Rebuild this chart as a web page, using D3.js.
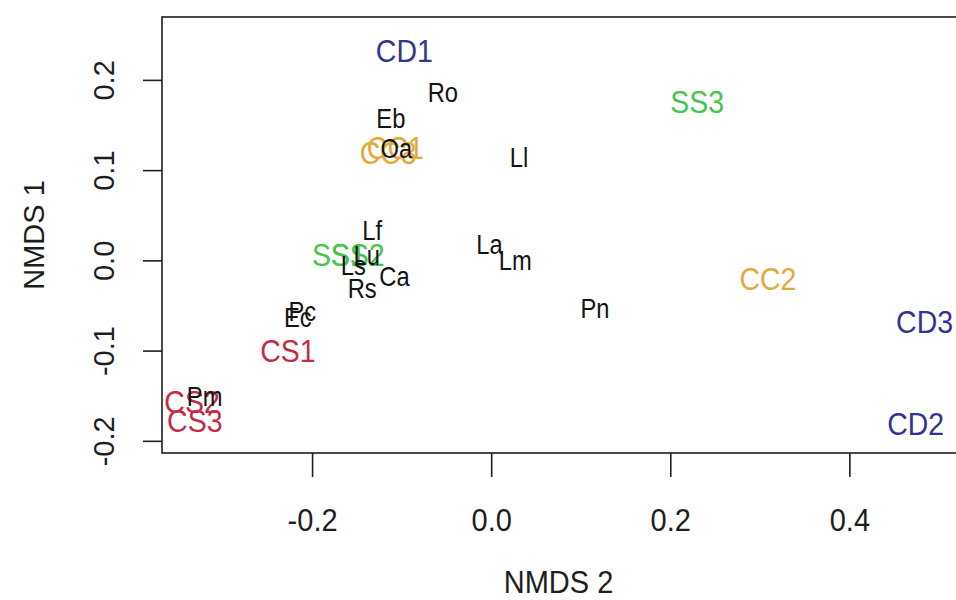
<!DOCTYPE html>
<html>
<head>
<meta charset="utf-8">
<script src="https://cdn.jsdelivr.net/npm/d3@7"></script>
<style>
  html, body { margin: 0; padding: 0; background: #fff; }
  svg { display: block; }
  text { font-family: "Liberation Sans", Arial, sans-serif; }
</style>
</head>
<body>
<svg id="chart" width="956" height="600"></svg>
<script>
// NMDS ordination: site scores and species scores
const siteLabels = ["CD1", "CD2", "CD3", "CC1", "CC2", "CC3", "SS1", "SS2", "SS3", "CS1", "CS2", "CS3"];
const siteNMDS2  = [-0.097, 0.474, 0.484, -0.107, 0.309, -0.115, -0.170, -0.149, 0.230, -0.227, -0.334, -0.331];
const siteNMDS1  = [0.233, -0.181, -0.068, 0.125, -0.020, 0.120, 0.007, 0.007, 0.176, -0.100, -0.156, -0.177];

const speciesLabels = ["Ro", "Eb", "Oa", "Ll", "Lf", "La", "Lm", "Lu", "Ls", "Ca", "Rs", "Pn", "Pc", "Ec", "Pm"];
const speciesNMDS2  = [-0.054, -0.112, -0.106, 0.031, -0.133, -0.002, 0.027, -0.139, -0.154, -0.108, -0.144, 0.116, -0.211, -0.216, -0.320];
const speciesNMDS1  = [0.186, 0.157, 0.124, 0.114, 0.033, 0.018, 0.000, 0.006, -0.006, -0.018, -0.031, -0.053, -0.057, -0.063, -0.151];

const xTicks = [-0.2, 0.0, 0.2, 0.4];
const yTicks = [-0.2, -0.1, 0.0, 0.1, 0.2];
const xTitle = "NMDS 2";
const yTitle = "NMDS 1";

const groupColor = { CD: "#34348f", CC: "#e2aa3c", SS: "#46c44c", CS: "#c42c44" };
const ink = "#1e1e1e";
const fmt = d => d3.format(".1f")(d).replace("\u2212", "-");

const svg = d3.select("#chart");
const plot = { left: 162, right: 957, top: 17, bottom: 453 };

const x = d3.scaleLinear().domain([-0.3676, 0.5202]).range([plot.left, plot.right]);
const y = d3.scaleLinear().domain([-0.2135, 0.2697]).range([plot.bottom, plot.top]);

// plot frame (right edge runs past the canvas)
svg.append("rect")
  .attr("x", plot.left).attr("y", plot.top)
  .attr("width", plot.right - plot.left).attr("height", plot.bottom - plot.top)
  .attr("fill", "none").attr("stroke", ink).attr("stroke-width", 1.6);

// bottom axis
const xAxis = d3.axisBottom(x).tickValues(xTicks).tickSize(24).tickFormat(fmt);
const gx = svg.append("g").attr("transform", `translate(0,${plot.bottom})`).call(xAxis);
gx.select(".domain").remove();
gx.selectAll(".tick line").attr("stroke", ink).attr("stroke-width", 1.6);
gx.selectAll(".tick text")
  .attr("y", null).attr("dy", "0.358em")
  .attr("transform", "translate(0,67) scale(1,1.08)")
  .attr("font-size", 29).attr("fill", ink)
  .attr("font-family", "Liberation Sans, Arial, sans-serif");

// left axis, labels turned vertical
const yAxis = d3.axisLeft(y).tickValues(yTicks).tickSize(19).tickFormat(fmt);
const gy = svg.append("g").attr("transform", `translate(${plot.left},0)`).call(yAxis);
gy.select(".domain").remove();
gy.selectAll(".tick line").attr("stroke", ink).attr("stroke-width", 1.6);
gy.selectAll(".tick text")
  .attr("x", null).attr("dy", "0.358em")
  .attr("text-anchor", "middle")
  .attr("transform", "translate(-58,0) rotate(-90)")
  .attr("font-size", 29).attr("fill", ink)
  .attr("font-family", "Liberation Sans, Arial, sans-serif");

// axis titles
svg.append("text")
  .attr("transform", `translate(${(plot.left + 955) / 2},582) scale(1,1.08)`)
  .attr("dy", "0.358em")
  .attr("text-anchor", "middle").attr("font-size", 29).attr("fill", ink)
  .text(xTitle);
svg.append("text")
  .attr("transform", `translate(34,${(plot.top + plot.bottom) / 2}) rotate(-90)`)
  .attr("dy", "0.358em")
  .attr("text-anchor", "middle").attr("font-size", 29).attr("fill", ink)
  .text(yTitle);

// site scores
const sites = siteLabels.map((l, i) => ({ label: l, x: siteNMDS2[i], y: siteNMDS1[i] }));
svg.append("g").selectAll("text").data(sites).join("text")
  .attr("transform", d => `translate(${x(d.x)},${y(d.y)}) scale(0.95,1.07)`)
  .attr("dy", "0.358em")
  .attr("text-anchor", "middle")
  .attr("font-size", 30)
  .attr("fill", d => groupColor[d.label.slice(0, 2)])
  .text(d => d.label);

// species scores
const species = speciesLabels.map((l, i) => ({ label: l, x: speciesNMDS2[i], y: speciesNMDS1[i] }));
svg.append("g").selectAll("text").data(species).join("text")
  .attr("transform", d => `translate(${x(d.x)},${y(d.y)}) scale(0.95,1.07)`)
  .attr("dy", "0.358em")
  .attr("text-anchor", "middle")
  .attr("font-size", 25)
  .attr("fill", "#141414")
  .text(d => d.label);
</script>
</body>
</html>
